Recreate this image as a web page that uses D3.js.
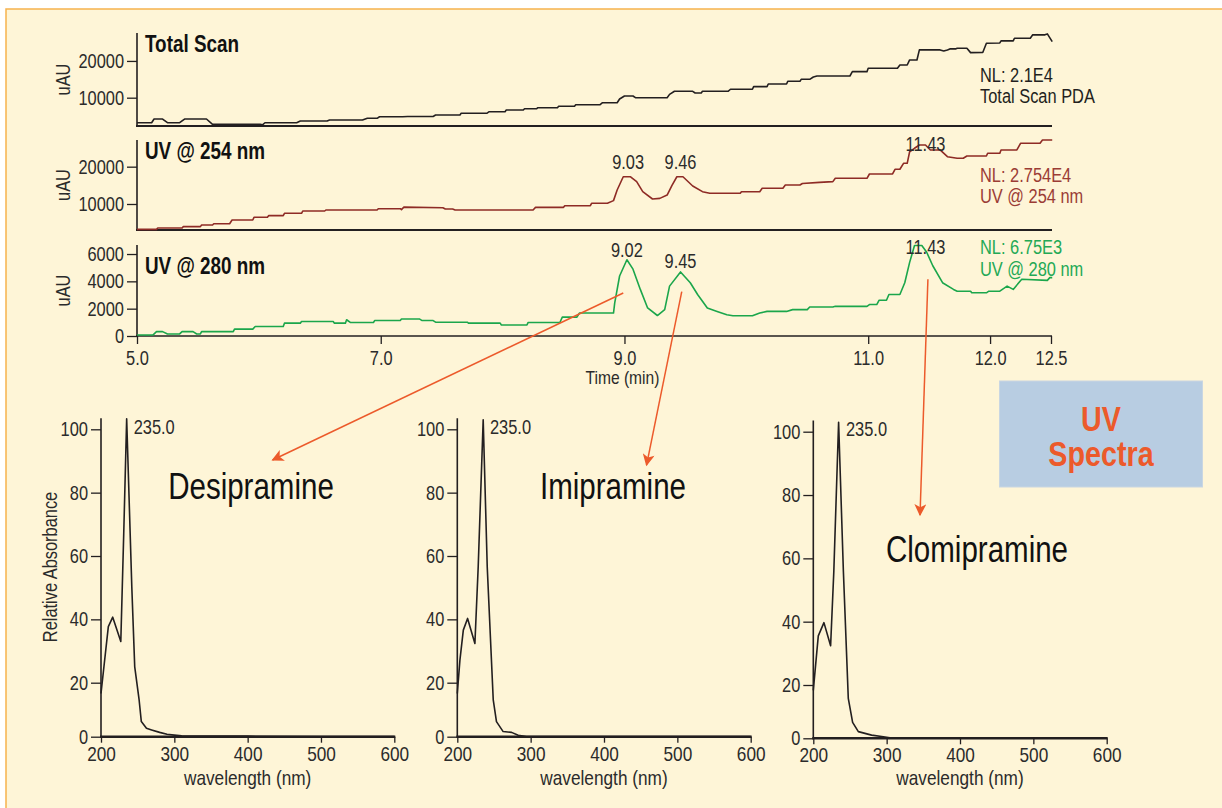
<!DOCTYPE html>
<html><head><meta charset="utf-8">
<script src="https://cdn.jsdelivr.net/npm/d3@7"></script>
<style>
body{margin:0;background:#fff;}
svg text{font-family:"Liberation Sans",Arial,sans-serif;}
</style></head><body>
<svg id="c" width="1222" height="808"></svg>
<script>
// ---------- DATA ----------
const timeTicks = [5.0, 7.0, 9.0, 11.0, 12.0, 12.5];
const totalScan = [[5.00,3190],[5.12,3190],[5.14,4200],[5.21,4200],[5.25,3190],[5.35,3190],[5.39,4200],[5.57,4200],[5.62,2750],[6.01,2750],[6.03,2600],[6.05,3190],[6.31,3190],[6.34,3650],[6.56,3650],[6.58,3920],[6.85,3920],[6.89,4390],[6.97,4390],[6.99,4820],[7.18,4820],[7.22,4900],[7.43,4900],[7.45,5290],[7.65,5290],[7.66,5750],[7.87,5750],[7.89,6190],[8.02,6190],[8.03,6650],[8.17,6650],[8.18,7000],[8.28,7000],[8.29,7280],[8.45,7280],[8.46,7660],[8.59,7660],[8.60,8100],[8.80,8100],[8.82,8640],[8.94,8640],[8.96,9650],[9.00,10460],[9.07,10460],[9.09,10000],[9.35,10000],[9.37,10900],[9.41,11740],[9.56,11740],[9.58,11280],[9.63,11280],[9.64,11740],[9.85,11740],[9.87,12300],[10.05,12300],[10.06,13000],[10.17,13000],[10.18,13730],[10.33,13730],[10.34,14460],[10.44,14460],[10.45,15000],[10.52,15000],[10.55,15640],[10.58,15900],[10.85,15900],[10.87,17080],[10.99,17080],[11.00,18000],[11.24,18000],[11.26,18900],[11.32,18900],[11.34,20270],[11.40,20270],[11.42,23000],[11.59,23000],[11.62,22700],[11.65,23000],[11.67,23270],[11.72,23270],[11.73,23450],[11.81,23450],[11.84,22260],[11.94,22300],[11.97,24800],[12.08,24900],[12.09,25450],[12.19,25450],[12.20,26180],[12.33,26180],[12.35,27100],[12.45,27100],[12.47,27360],[12.51,25270]];
const uv254 = [[5.00,3200],[5.16,3200],[5.17,3570],[5.37,3570],[5.38,3930],[5.52,3930],[5.53,4370],[5.62,4370],[5.63,4720],[5.76,4720],[5.78,5710],[5.95,5710],[5.96,6430],[6.07,6430],[6.08,6870],[6.20,6870],[6.21,7500],[6.35,7500],[6.36,8120],[6.54,8120],[6.55,8390],[6.97,8390],[6.98,8740],[7.16,8740],[7.17,8500],[7.19,9150],[7.51,9010],[7.53,8660],[7.59,8660],[7.61,8390],[8.25,8390],[8.27,9100],[8.50,9100],[8.51,9540],[8.72,9540],[8.73,10190],[8.86,10190],[8.91,10900],[8.94,13750],[8.99,17300],[9.05,17300],[9.10,16000],[9.15,13300],[9.23,11340],[9.29,11500],[9.35,12400],[9.39,15000],[9.43,17300],[9.48,17300],[9.56,14830],[9.64,13300],[9.70,12870],[9.95,12870],[9.96,13300],[10.11,13300],[10.13,14200],[10.30,14200],[10.32,15090],[10.44,15090],[10.46,15500],[10.60,15800],[10.71,16000],[10.73,16890],[10.99,16890],[11.01,18040],[11.20,18040],[11.22,19300],[11.26,19300],[11.29,20900],[11.32,20900],[11.34,24000],[11.38,24930],[11.42,25800],[11.47,25800],[11.51,24480],[11.59,24480],[11.65,22680],[11.73,22250],[11.78,22250],[11.81,22870],[11.97,22870],[11.98,23590],[12.08,23590],[12.09,24480],[12.22,24480],[12.25,26270],[12.41,26270],[12.43,27160],[12.51,27160]];
const uv280 = [[5.00,70],[5.13,70],[5.16,320],[5.21,320],[5.25,150],[5.35,150],[5.37,320],[5.46,320],[5.49,150],[5.52,150],[5.53,320],[5.79,320],[5.80,500],[5.95,500],[5.97,690],[6.20,690],[6.21,940],[6.34,940],[6.35,1060],[6.61,1060],[6.62,940],[6.71,940],[6.72,1190],[6.75,990],[6.94,990],[6.95,1130],[7.16,1130],[7.17,1240],[7.32,1240],[7.34,1130],[7.43,1130],[7.45,1010],[7.71,1010],[7.72,940],[7.98,940],[7.99,810],[8.20,810],[8.21,990],[8.47,990],[8.49,1380],[8.61,1380],[8.63,1680],[8.91,1680],[8.92,2420],[8.96,4390],[9.02,5580],[9.07,4890],[9.13,3410],[9.19,2050],[9.27,1500],[9.33,1930],[9.37,3650],[9.46,4690],[9.54,3900],[9.60,3040],[9.68,2050],[9.76,1800],[9.84,1560],[9.89,1480],[10.05,1480],[10.11,1680],[10.17,1800],[10.33,1800],[10.38,1930],[10.50,1930],[10.52,2120],[10.71,2120],[10.73,2170],[10.99,2170],[11.01,2300],[11.07,2300],[11.09,2620],[11.15,2620],[11.17,3040],[11.26,3040],[11.30,3900],[11.34,5390],[11.38,6620],[11.44,6620],[11.48,6130],[11.53,5140],[11.61,3900],[11.70,3410],[11.73,3280],[11.84,3280],[11.85,3160],[11.97,3160],[11.99,3280],[12.08,3280],[12.14,3650],[12.19,3410],[12.26,4150],[12.47,4070],[12.49,4270],[12.51,4270]];
const panelTitles = ["Total Scan", "UV @ 254 nm", "UV @ 280 nm"];
const panelNL = [["NL: 2.1E4","Total Scan PDA"],["NL: 2.754E4","UV @ 254 nm"],["NL: 6.75E3","UV @ 280 nm"]];
const panelYTicks = [[10000,20000],[10000,20000],[0,2000,4000,6000]];
const peakLabels254 = [{text:"9.03",t:9.03,v:19300},{text:"9.46",t:9.46,v:19300},{text:"11.43",t:11.47,v:24280}];
const peakLabels280 = [{text:"9.02",t:9.02,v:5800},{text:"9.45",t:9.46,v:4955},{text:"11.43",t:11.47,v:6000}];

const compounds = ["Desipramine","Imipramine","Clomipramine"];
const wavelengthTicks = [200,300,400,500,600];
const absTicks = [0,20,40,60,80,100];
const desipramine = [[200,16],[210,37.7],[216,40.7],[227,33],[231,67],[235,103.3],[242,50.3],[246,25],[252,13.6],[255,5.6],[262,3.1],[269,2.5],[280,1.6],[290,0.9],[300,0.6],[310,0.3],[400,0.2],[500,0.1],[600,0.1]];
const imipramine = [[200,16],[203.6,27.2],[208.2,36.6],[214,40.3],[224,32.4],[228.5,56.6],[235.3,103],[240.8,56.6],[249,13.6],[253.4,5.6],[262.5,1.9],[274,1.6],[283,0.5],[294.5,0.1],[600,0.1]];
const clomipramine = [[200,18],[206.8,35.5],[214.5,39.7],[223.6,32.4],[228,56],[234.5,103],[241,56],[247.7,15],[253.6,6],[261.4,2.5],[279.5,1.2],[295.5,0.6],[304.5,0.2],[600,0.1]];
const maxLabel = "235.0";
// arrows: from chromatogram (time, uAU @280) to spectrum panel (wavelength, absorbance)
const arrows = [{t:8.99,v:3150,panel:0,wl:434,abs:90.3},{t:9.47,v:3245,panel:1,wl:458,abs:88.7},{t:11.49,v:4150,panel:2,wl:345.5,abs:73.7}];

// ---------- LAYOUT ----------
const svg = d3.select("#c");
const INK = "#231f20", TXT = "#2b2b2b";
const C254 = "#8e2b25", C254T = "#9b3c35", C280 = "#1ba64b", C280T = "#23a955";
const ORANGE = "#ec5a2b";

svg.append("rect").attr("x",0).attr("y",0).attr("width",1222).attr("height",808).attr("fill","#fff");
svg.append("rect").attr("x",6).attr("y",9).attr("width",1240).attr("height",820)
  .attr("fill","#fef5d7").attr("stroke","#f6b24d").attr("stroke-width",1.5);

const x = d3.scaleLinear().domain([5,12.5]).range([137,1051]);
const panels = [
  {y: d3.scaleLinear().domain([2300,27600]).range([126,33]), data: totalScan, color: INK, tcol: INK, tb:52},
  {y: d3.scaleLinear().domain([3030,27150]).range([230,140]), data: uv254, color: C254, tcol: C254T, tb:159},
  {y: d3.scaleLinear().domain([0,6660]).range([336,245]), data: uv280, color: C280, tcol: C280T, tb:274}
];
const nlY = [[82,103],[182,203],[254,276]];

function styleAxis(g, size){
  g.attr("font-family",null).attr("font-size",null);
  g.selectAll("text").style("font-size",size+"px").attr("fill",TXT);
  g.selectAll("line").attr("stroke",INK).attr("stroke-width",1.3);
  g.select(".domain").remove();
}

panels.forEach((p,i)=>{
  const g = svg.append("g");
  const ax = g.append("g").attr("transform",`translate(${x(5)},0)`)
    .call(d3.axisLeft(p.y).tickValues(panelYTicks[i]).tickSize(10).tickPadding(3).tickFormat(d3.format("d")));
  styleAxis(ax, 20);
  g.append("line").attr("x1",x(5)).attr("x2",x(5)).attr("y1",p.y.range()[1]).attr("y2",p.y.range()[0])
    .attr("stroke",INK).attr("stroke-width",1.6);
  g.append("line").attr("x1",x(5)-1).attr("x2",x(12.5)+1).attr("y1",p.y.range()[0]).attr("y2",p.y.range()[0])
    .attr("stroke",INK).attr("stroke-width",i<2?2.2:1.6);
  g.append("text").attr("transform",`translate(70,${(p.y.range()[0]+p.y.range()[1])/2}) rotate(-90)`)
    .attr("text-anchor","middle").style("font-size","20px").attr("fill",TXT).text("uAU");
  g.append("path").datum(p.data)
    .attr("d", d3.line().x(d=>x(d[0])).y(d=>p.y(d[1])))
    .attr("fill","none").attr("stroke",p.color).attr("stroke-width",1.6).attr("stroke-linejoin","round");
  g.append("text").attr("x",145).attr("y",p.tb).style("font-size","23px").style("font-weight","bold")
    .attr("fill","#111").text(panelTitles[i]);
  g.append("text").attr("x",980).attr("y",nlY[i][0]).style("font-size","20px").attr("fill",p.tcol).text(panelNL[i][0]);
  g.append("text").attr("x",980).attr("y",nlY[i][1]).style("font-size","20px").attr("fill",p.tcol).text(panelNL[i][1]);
});

[[peakLabels254,panels[1]],[peakLabels280,panels[2]]].forEach(([labs,p])=>{
  svg.append("g").selectAll("text").data(labs).join("text")
    .attr("x",d=>x(d.t)).attr("y",d=>p.y(d.v)).attr("text-anchor","middle")
    .style("font-size","20px").attr("fill",TXT).text(d=>d.text);
});

const xa = svg.append("g").attr("transform","translate(0,336)")
  .call(d3.axisBottom(x).tickValues(timeTicks).tickSize(8).tickPadding(7).tickFormat(d3.format(".1f")));
styleAxis(xa, 20);
svg.append("text").attr("x",x(9.0)-2).attr("y",384).attr("text-anchor","middle")
  .style("font-size","19px").attr("fill",TXT).text("Time (min)");

// ---------- SPECTRA ----------
const specData = [desipramine, imipramine, clomipramine];
const specX = [[101,394.3],[457.3,750.7],[813.3,1106.7]];
const specY = [[736.7,682.7,429.3],[736.7,682.7,429.3],[738.3,685,431.7]];
const nameCenter = [[251,499],[613,499],[977,562]];
const specPanels = specData.map((d,i)=>({
  x: d3.scaleLinear().domain([200,600]).range(specX[i]),
  y: d3.scaleLinear().domain([0,20,100]).range(specY[i])
}));

specPanels.forEach((sp,i)=>{
  const g = svg.append("g");
  const ay = g.append("g").attr("transform",`translate(${sp.x(200)},0)`)
    .call(d3.axisLeft(sp.y).tickValues(absTicks).tickSize(10).tickPadding(3));
  styleAxis(ay, 20);
  const axb = g.append("g").attr("transform",`translate(0,${sp.y(0)})`)
    .call(d3.axisBottom(sp.x).tickValues(wavelengthTicks).tickSize(6).tickPadding(3));
  styleAxis(axb, 21);
  g.append("line").attr("x1",sp.x(200)).attr("x2",sp.x(200)).attr("y1",sp.y(103.5)).attr("y2",sp.y(0))
    .attr("stroke",INK).attr("stroke-width",1.6);
  g.append("line").attr("x1",sp.x(200)-1).attr("x2",sp.x(600)+1).attr("y1",sp.y(0)).attr("y2",sp.y(0))
    .attr("stroke",INK).attr("stroke-width",2.4);
  g.append("path").datum(specData[i])
    .attr("d", d3.line().x(d=>sp.x(d[0])).y(d=>sp.y(d[1])))
    .attr("fill","none").attr("stroke",INK).attr("stroke-width",1.6).attr("stroke-linejoin","round");
  g.append("text").attr("x",sp.x(235)+7).attr("y",sp.y(98.5)).style("font-size","20px").attr("fill",TXT).text(maxLabel);
  g.append("text").attr("x",(sp.x(200)+sp.x(600))/2).attr("y",785).attr("text-anchor","middle")
    .style("font-size","21px").attr("fill",TXT).text("wavelength (nm)");
  g.append("text").attr("x",nameCenter[i][0]).attr("y",nameCenter[i][1]).attr("text-anchor","middle")
    .style("font-size","36px").attr("fill","#111").text(compounds[i]);
});
svg.append("text").attr("transform","translate(57,567) rotate(-90)").attr("text-anchor","middle")
  .style("font-size","20px").attr("fill",TXT).text("Relative Absorbance");

// ---------- UV Spectra box ----------
svg.append("rect").attr("x",999.5).attr("y",381).attr("width",203).attr("height",106)
  .attr("fill","#b8cde2").attr("stroke","#c9d6e2").attr("stroke-width",1);
svg.append("text").attr("x",1101).attr("y",431).attr("text-anchor","middle")
  .style("font-size","35px").style("font-weight","bold").attr("fill",ORANGE).text("UV");
svg.append("text").attr("x",1101).attr("y",466).attr("text-anchor","middle")
  .style("font-size","35px").style("font-weight","bold").attr("fill",ORANGE).text("Spectra");

// ---------- arrows ----------
const defs = svg.append("defs");
defs.append("marker").attr("id","ah").attr("viewBox","0 0 10 10").attr("refX",9).attr("refY",5)
  .attr("markerWidth",14).attr("markerHeight",12).attr("markerUnits","userSpaceOnUse").attr("orient","auto")
  .append("path").attr("d","M0,0 L10,5 L0,10 L2.5,5 Z").attr("fill",ORANGE);
svg.append("g").selectAll("line").data(arrows).join("line")
  .attr("x1",d=>x(d.t)).attr("y1",d=>panels[2].y(d.v))
  .attr("x2",d=>specPanels[d.panel].x(d.wl)).attr("y2",d=>specPanels[d.panel].y(d.abs))
  .attr("stroke",ORANGE).attr("stroke-width",1.5).attr("marker-end","url(#ah)");

// condensed look: compress every text horizontally (Arial Narrow ≈ 82% of Arial)
svg.selectAll("text").each(function(){
  const w = this.getComputedTextLength();
  d3.select(this).attr("textLength", (w*0.82).toFixed(1)).attr("lengthAdjust","spacingAndGlyphs");
});
</script>
</body></html>
